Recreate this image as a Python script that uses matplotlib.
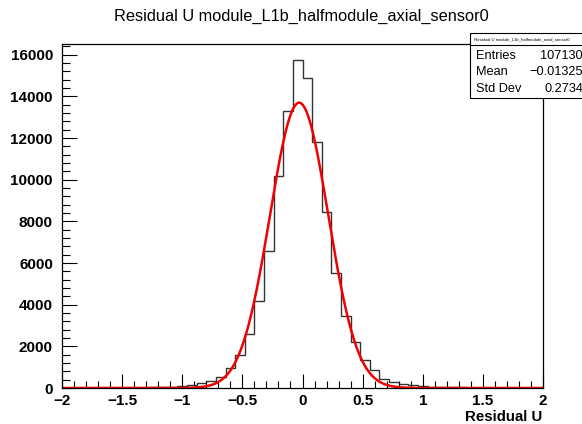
import numpy as np
import matplotlib.pyplot as plt
from matplotlib.patches import Rectangle
from matplotlib.lines import Line2D
from matplotlib.ticker import MultipleLocator

# histogram: 50 bins from -2 to 2
bin_lo = -2.0
bin_hi = 2.0
counts = [
    2, 2, 3, 4, 5, 7, 10, 15, 22, 30,
    40, 55, 85, 130, 225, 335, 545, 975, 1580, 2580,
    4180, 6570, 10160, 13320, 15730, 14890, 11790, 8430, 5545, 3460,
    2196, 1360, 850, 420, 300, 190, 140, 90, 60, 45,
    35, 25, 15, 10, 7, 5, 4, 3, 2, 2,
]

# gaussian fit parameters
fit_const = 13700
fit_mean = -0.028
fit_sigma = 0.242

title = "Residual U module_L1b_halfmodule_axial_sensor0"
stat_names = ["Entries", "Mean", "Std Dev"]
stat_values = ["107130", "\u22120.01325", "0.2734"]

plt.rcParams["font.family"] = ["Liberation Sans", "DejaVu Sans"]

W, H = 582, 424


def px(x, y):
    # pixel (from top-left) -> figure coords
    return x / W, 1 - y / H


def main():
    fig = plt.figure(figsize=(W / 100, H / 100), dpi=100)
    fig.patch.set_facecolor("white")

    x0, y1 = px(62, 44)
    x1, y0 = px(543, 388)
    ax = fig.add_axes([x0, y0, x1 - x0, y1 - y0])

    edges = np.linspace(bin_lo, bin_hi, len(counts) + 1)
    ax.stairs(counts, edges, color="#333333", lw=1.0)

    xs = np.linspace(bin_lo, bin_hi, 800)
    ys = fit_const * np.exp(-0.5 * ((xs - fit_mean) / fit_sigma) ** 2)
    ax.plot(xs, ys, color="#f00000", lw=1.8)

    ax.set_xlim(bin_lo, bin_hi)
    ax.set_ylim(0, max(counts) * 1.05)

    ax.xaxis.set_major_locator(MultipleLocator(0.5))
    ax.xaxis.set_minor_locator(MultipleLocator(0.1))
    ax.yaxis.set_major_locator(MultipleLocator(2000))
    ax.yaxis.set_minor_locator(MultipleLocator(400))
    ax.xaxis.set_major_formatter(lambda v, p: f"{v:g}".replace("-", "\u2212"))

    ax.tick_params(axis="both", which="both", direction="in", color="black", width=0.8)
    ax.tick_params(axis="x", which="major", length=10, pad=4.5)
    ax.tick_params(axis="x", which="minor", length=5)
    ax.tick_params(axis="y", which="major", length=11, pad=6.5)
    ax.tick_params(axis="y", which="minor", length=5.5)
    for lab in ax.get_xticklabels() + ax.get_yticklabels():
        lab.set_fontweight("bold")
        lab.set_fontsize(11)
    for s in ax.spines.values():
        s.set_linewidth(0.9)
        s.set_color("black")

    tx, ty = px(542, 421)
    fig.text(tx, ty, "Residual U", ha="right", va="baseline",
             fontsize=10.8, fontweight="bold")

    tx, ty = px(301, 21)
    fig.text(tx, ty, title, ha="center", va="baseline", fontsize=11.8)

    # stats box
    bx0, by1 = px(469.5, 33)
    bx1, by0 = px(600, 97.5)
    sx, sy = 2 / W, 1.5 / H
    fig.patches.append(Rectangle((bx0 + sx, by0 - sy), bx1 - bx0, by1 - by0,
                                 transform=fig.transFigure, facecolor="#333333",
                                 edgecolor="none", zorder=5))
    fig.patches.append(Rectangle((bx0, by0), bx1 - bx0, by1 - by0,
                                 transform=fig.transFigure, facecolor="white",
                                 edgecolor="black", lw=0.8, zorder=6))
    lx0, ly = px(469.5, 44.5)
    fig.lines.append(Line2D([lx0, bx1], [ly, ly], transform=fig.transFigure,
                            color="black", lw=0.8, zorder=7))
    tx, ty = px(474, 39)
    fig.text(tx, ty, title, ha="left", va="center", fontsize=3.1, zorder=8)

    rows_y = [55.7, 72.3, 89.3]
    for name, val, yy in zip(stat_names, stat_values, rows_y):
        lx, ly = px(476, yy)
        fig.text(lx, ly, name, ha="left", va="center", fontsize=9.2, zorder=8)
        rx, ry = px(583, yy)
        fig.text(rx, ry, val, ha="right", va="center", fontsize=9.2, zorder=8)

    fig.savefig("out.png", dpi=100, facecolor="white")
    plt.close(fig)


if __name__ == "__main__":
    main()
